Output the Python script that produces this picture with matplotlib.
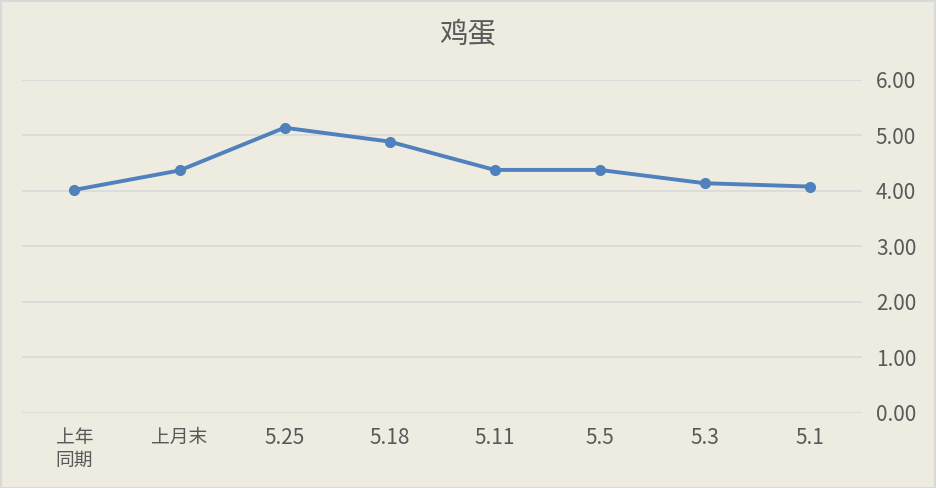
import matplotlib
matplotlib.use("Agg")
import matplotlib.pyplot as plt

plt.rcParams['font.family'] = ['Noto Sans CJK SC', 'DejaVu Sans']

title = "鸡蛋"
categories = ["上年\n同期", "上月末", "5.25", "5.18", "5.11", "5.5", "5.3", "5.1"]
values = [4.02, 4.37, 5.14, 4.89, 4.38, 4.38, 4.14, 4.08]
yticks = [0, 1, 2, 3, 4, 5, 6]

bg = "#EEEBE1"
txt = "#595959"
fig = plt.figure(figsize=(9.36, 4.88), dpi=100, facecolor=bg)
ax = fig.add_axes([0.0235, 0.1537, 0.8975, 0.6824], facecolor=bg)

x = list(range(len(categories)))
ax.plot(x, values, color="#4F81BD", linewidth=2.8, marker="o", markersize=7, zorder=3)

ax.set_xlim(-0.5, len(categories) - 0.5)
ax.set_ylim(0, 6)
ax.set_yticks(yticks)
ax.set_yticklabels([f"{v:.2f}" for v in yticks])
ax.yaxis.tick_right()
ax.set_xticks(x)
ax.set_xticklabels(categories, linespacing=1.1, va="top")
ax.tick_params(axis="both", length=0, colors=txt, labelsize=15)
ax.tick_params(axis="x", pad=10)
ax.tick_params(axis="y", pad=10)
for lbl in ax.get_xticklabels():
    if not lbl.get_text()[0].isdigit():
        lbl.set_fontsize(13.5)
ax.grid(axis="y", color="#D9D9D9", linewidth=1.2)
ax.set_axisbelow(True)
for s in ax.spines.values():
    s.set_visible(False)

fig.text(0.5, 0.93, title, ha="center", va="center", fontsize=20.5, color=txt)

border = plt.Rectangle((0.001, 0.001), 0.998, 0.997, transform=fig.transFigure,
                       fill=False, edgecolor="#D9D9D9", linewidth=1.5)
fig.patches.append(border)

fig.savefig("out.png", dpi=100, facecolor=bg)
